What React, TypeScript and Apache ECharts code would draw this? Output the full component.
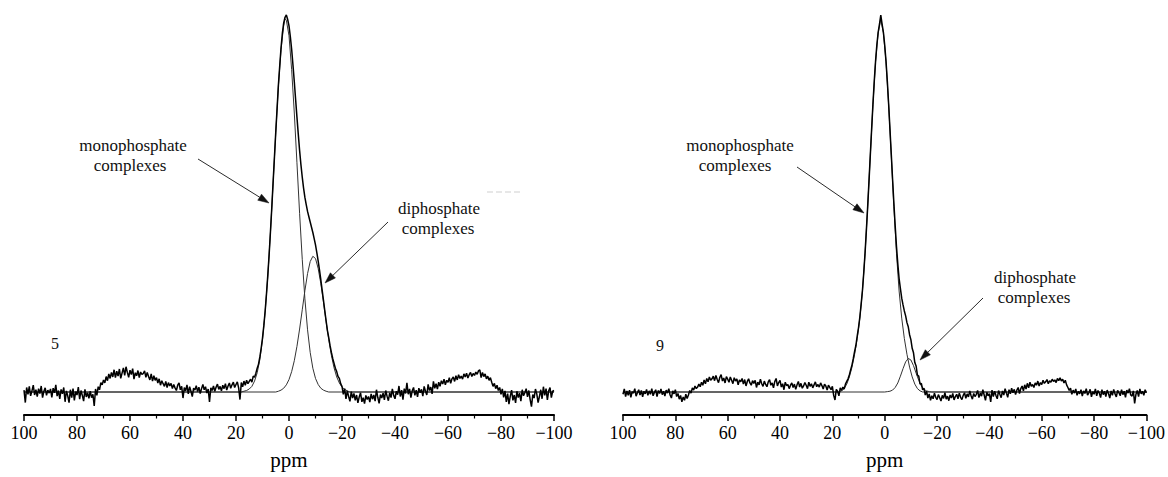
import React, { useEffect, useRef } from "react";
import * as echarts from "echarts";

// ---- data (intensity in arbitrary units, main peak = 100, baseline = 0) ----
const EXP_START_PPM = 100;
const EXP_STEP_PPM = 0.5;

// sample 5 (left panel), experimental spectrum, 100 ppm -> -100 ppm every 0.5 ppm
const LEFT_EXP = [
  0.5, -2.8, 1.2, -0.6, 1.5, -1.0, 0.3, 1.8, -0.8, 0.6,
  -1.2, 0.9, -0.4, 1.6, -1.5, 0.2, 1.1, -0.9, 0.5, -0.3,
  0.8, -1.4, 1.0, -0.2, 1.9, -1.1, 0.4, -1.8, 0.7, -0.5,
  1.2, -2.6, 0.3, -1.0, -2.8, 0.6, -1.5, 0.9, -2.2, 0.1,
  -0.8, 1.3, -1.9, 0.4, -0.9, -2.4, 0.7, -1.3, -0.2, -1.7,
  0.2, -1.5, -0.6, -3.7, 0.8, -0.9, 1.4, 0.6, 2.5, 1.9,
  3.2, 2.4, 4.1, 3.0, 4.8, 3.6, 5.2, 4.0, 5.9, 3.8,
  5.5, 4.2, 6.1, 3.6, 5.0, 6.4, 4.4, 6.7, 5.2, 3.9,
  5.8, 4.6, 6.2, 3.4, 5.1, 4.3, 5.7, 3.8, 5.3, 4.7,
  4.9, 5.6, 3.9, 5.2, 4.1, 3.2, 4.8, 2.9, 4.3, 3.1,
  3.8, 2.4, 3.5, 1.8, 3.0, 2.2, 1.5, 2.8, 1.2, 2.5,
  1.6, 2.3, 0.9, 2.0, 1.1, 0.4, 1.8, 2.4, 0.6, 1.5,
  -1.6, 1.2, 0.3, 1.9, -0.5, 1.4, 0.2, -1.2, 1.0, 0.5,
  1.7, 0.1, 1.3, -0.4, 0.9, 2.0, 0.6, 1.4, -0.3, 0.8,
  -2.6, 1.1, 0.4, 1.6, 0.2, 1.3, 2.1, 0.7, 1.5, 0.3,
  1.8, 0.9, 2.2, 0.5, 1.6, 2.4, 1.0, 1.9, 2.6, 1.2,
  2.0, 2.7, 1.1, -2.0, 2.5, 1.4, 2.9, 1.8, 3.1, 2.2,
  2.8, 3.4, 2.6, 4.2, 3.9, 5.0, 6.3, 7.4, 9.3, 11.6,
  14.3, 17.6, 21.5, 26.0, 31.0, 36.4, 42.5, 48.8, 55.6, 62.2,
  68.9, 75.1, 81.4, 86.5, 91.3, 95.2, 97.9, 99.4, 100.0, 98.8,
  97.1, 94.3, 90.9, 86.7, 82.3, 77.6, 72.9, 68.4, 64.1, 60.3,
  57.0, 54.1, 51.6, 49.7, 47.9, 46.5, 45.1, 43.7, 42.3, 40.7,
  39.0, 37.0, 34.8, 32.4, 29.8, 27.1, 24.4, 21.6, 18.9, 16.3,
  14.4, 12.3, 10.5, 8.9, 7.6, 6.3, 5.4, 4.1, 3.6, 2.2,
  1.5, -0.6, 0.9, -1.8, 0.3, -1.2, -2.5, 0.1, -1.6, -0.4,
  -2.2, -0.8, -2.9, -1.3, -0.2, -2.6, -1.5, -3.1, -0.9, -2.0,
  -1.2, -2.7, -0.5, -1.9, -0.8, -2.4, 0.6, -1.4, -3.0, -0.7,
  -1.6, -0.3, -2.1, 0.4, -1.1, -2.3, -0.2, -1.5, 0.8, -0.9,
  -1.8, 0.2, -0.7, 1.6, -1.2, 0.5, -2.0, 0.9, -0.4, 2.4,
  -0.6, 0.8, -1.5, 0.3, 1.2, -0.9, 0.5, -1.3, 1.0, -0.2,
  0.7, -1.1, 1.5, 0.2, -0.8, 2.0, 0.4, 1.3, -0.5, 2.8,
  1.0, 2.2, 0.8, 2.6, 1.5, 3.0, 2.1, 3.4, 1.9, 3.1,
  2.6, 3.8, 2.3, 3.5, 4.0, 2.8, 4.3, 3.2, 4.6, 3.6,
  4.2, 3.4, 4.8, 4.0, 5.0, 3.7, 4.6, 5.2, 4.1, 4.9,
  4.4, 5.3, 4.7, 5.6, 5.9, 3.8, 5.2, 4.1, 4.8, 3.5,
  4.2, 3.1, 3.8, 2.6, 1.5, 2.3, 0.9, 1.8, 0.4, 1.2,
  -0.6, 0.8, -1.4, 0.3, -2.6, -0.4, -3.2, -1.1, 0.5, -2.2,
  -0.8, -2.9, 0.2, -1.5, -0.3, -2.4, 0.6, -1.0, -0.2, 0.9,
  -1.3, 0.4, -2.0, -3.9, -0.7, -1.6, 0.8, -0.5, -2.8, -1.2,
  0.6, -1.8, 1.4, -0.9, 0.9, -2.1, 0.3, 1.2, -1.5, 0.2,
  0.4,
];

// sample 5 fitted components
const LEFT_MONO_PPM = [100, 18, 17, 16, 15, 14, 13, 12, 11, 10, 9, 8, 7, 6, 5, 4, 3, 2, 1.5, 1, 0, -1, -2, -3, -4, -5, -6, -7, -8, -9, -10, -11, -12, -13, -14, -15, -100];
const LEFT_MONO_VAL = [0, 0, 0.2, 0.4, 0.8, 1.5, 2.9, 5.1, 8.6, 13.9, 21.2, 30.7, 42.3, 55.4, 68.8, 81.2, 90.9, 97.2, 99.0, 98.6, 94.5, 85.5, 74.0, 60.8, 47.4, 35.2, 24.7, 16.5, 10.5, 6.3, 3.6, 2.0, 1.0, 0.5, 0.2, 0, 0];
const LEFT_DI_PPM = [100, 5, 4, 3, 2, 1, 0, -1, -2, -3, -4, -5, -6, -7, -8, -9, -10, -11, -12, -13, -14, -15, -16, -17, -18, -19, -20, -21, -22, -23, -100];
const LEFT_DI_VAL = [0, 0, 0.2, 0.5, 1.0, 1.9, 3.3, 5.4, 8.3, 12.1, 16.7, 21.8, 26.9, 31.4, 34.6, 36.0, 35.4, 32.8, 28.8, 23.9, 18.7, 13.9, 9.7, 6.4, 4.0, 2.4, 1.3, 0.7, 0.3, 0, 0];

// sample 9 (right panel), experimental spectrum
const RIGHT_EXP = [
  -0.6, 0.8, -1.2, 0.3, -0.9, 0.5, -1.4, 0.1, -0.3, 0.9,
  -1.1, -0.2, 0.6, -0.8, 0.4, -1.3, 0.2, -0.5, 0.7, -0.9,
  0.3, -0.6, 0.9, -1.0, -0.1, 0.6, -1.2, 0.4, -0.4, 0.8,
  -0.7, 0.2, -1.1, 0.5, -0.3, 0.9, -0.8, -1.6, 0.3, -0.5,
  0.6, -1.2, -0.4, -1.9, -0.9, -2.6, -1.3, -2.2, -0.6, -1.7,
  -0.8, 0.4, -0.3, 1.1, 0.5, 1.6, 0.9, 1.3, 2.1, 1.4,
  2.6, 1.8, 3.2, 2.2, 3.6, 2.7, 4.0, 3.1, 3.5, 4.2,
  3.0, 4.4, 3.3, 2.5, 3.9, 4.6, 2.9, 3.7, 2.4, 4.1,
  3.4, 2.6, 4.0, 3.1, 2.2, 3.8, 2.9, 3.5, 1.9, 3.2,
  2.7, 3.6, 2.1, 3.3, 1.6, 2.8, 3.5, 2.4, 1.8, 3.0,
  2.3, 3.1, 1.2, 2.6, 1.9, 3.4, 2.2, 1.5, 2.9, 2.0,
  1.4, 2.7, 3.3, 1.8, 2.4, 1.1, 2.8, 3.6, 1.6, 2.5,
  3.1, 1.3, 2.2, 0.6, 2.6, 1.7, 2.0, 0.9, 1.8, 2.4,
  1.2, 2.1, 0.7, 1.9, 2.8, 1.3, 2.3, 1.0, 1.6, 2.5,
  1.8, 0.9, 2.6, 1.5, 2.2, 1.1, 1.9, 2.7, 1.4, 2.0,
  1.3, 2.4, 1.7, 0.8, 2.1, 1.6, 0.5, 1.8, 1.2, 0.6,
  1.5, -0.9, -2.1, 0.7, 0.2, -1.0, 1.1, 0.4, 1.3, 0.8,
  2.1, 2.8, 3.5, 4.6, 5.9, 7.2, 8.9, 10.8, 12.4, 14.9,
  17.1, 19.9, 23.3, 27.0, 31.7, 37.0, 43.0, 49.3, 56.0, 62.9,
  69.7, 76.3, 82.4, 87.7, 92.1, 95.4, 97.6, 100.0, 97.6, 95.4,
  92.0, 87.7, 82.4, 76.4, 69.8, 63.2, 56.5, 50.1, 44.1, 38.6,
  34.0, 30.1, 27.4, 24.9, 23.1, 21.5, 20.2, 18.4, 17.3, 15.2,
  13.9, 11.6, 10.4, 7.8, 6.9, 4.5, 4.2, 2.1, 2.3, 0.6,
  1.0, -0.8, 0.2, -1.6, -0.5, -2.2, -1.0, -1.8, -0.3, -1.4,
  -2.0, -0.7, -1.5, -2.4, -0.9, -1.7, -0.2, -1.9, -1.1, -2.3,
  -0.8, -1.6, -0.4, -2.1, -1.2, -0.6, -1.8, -0.3, -1.4, -2.0,
  -0.9, -0.2, -1.7, -0.5, -1.3, 0.3, -1.0, -1.9, -0.4, -1.2,
  -0.6, 0.4, -1.5, -0.3, -1.1, 0.6, -0.8, -2.2, -0.1, -1.0,
  -0.4, -2.6, 0.5, -1.2, 0.2, -0.9, -1.8, 0.4, -0.6, -1.5,
  0.3, -0.8, 0.9, -0.3, -1.4, 0.6, -0.5, 1.0, -0.2, 0.7,
  -0.7, 0.5, 1.2, -0.4, 0.9, 1.6, 0.3, 1.9, 0.8, 2.3,
  1.1, 2.6, 1.5, 2.0, 1.2, 2.4, 1.8, 2.9, 1.6, 2.5,
  2.0, 3.1, 2.3, 2.7, 3.3, 2.2, 3.0, 2.6, 3.4, 2.8,
  3.2, 2.5, 3.6, 3.0, 3.8, 2.9, 3.4, 2.4, 3.1, 1.9,
  1.2, 0.4, 1.0, -0.6, 0.5, -0.3, 0.8, -0.9, 0.2, -0.5,
  0.6, -1.1, 0.3, -0.4, 0.9, -0.8, -0.2, 0.7, -1.3, 0.1,
  -0.6, 0.8, -1.0, 0.4, -0.3, -1.5, 0.6, -0.7, 0.2, -1.2,
  0.5, -0.4, -1.6, 0.3, -0.9, 0.7, -0.5, -1.3, 0.4, -0.2,
  -1.0, 0.6, -0.7, 0.2, -1.4, 0.5, -0.3, 0.9, -0.8, -1.1,
  0.3, -3.0, -0.6, 0.4, -1.2, 0.8, -0.5, 0.2, -0.9, 0.6,
  -0.2,
];

// sample 9 fitted components
const RIGHT_MONO_PPM = [100, 17.5, 16.5, 15.5, 14.5, 13.5, 12.5, 11.5, 10.5, 9.5, 8.5, 7.5, 6.5, 5.5, 4.5, 3.5, 2.5, 1.5, 0.5, -0.5, -1.5, -2.5, -3.5, -4.5, -5.5, -6.5, -7.5, -8.5, -9.5, -10.5, -11.5, -12.5, -13.5, -14.5, -100];
const RIGHT_MONO_VAL = [0, 0, 0.3, 0.9, 2.1, 4.0, 6.6, 10.0, 14.2, 19.6, 26.8, 36.8, 49.2, 62.8, 76.2, 87.6, 95.3, 98.8, 95.3, 87.6, 76.2, 62.8, 49.2, 36.8, 26.8, 19.6, 14.2, 10.0, 6.6, 4.0, 2.1, 0.9, 0.3, 0, 0];
const RIGHT_DI_PPM = [100, 0, -1, -2, -3, -4, -5, -6, -7, -8, -9, -10, -11, -12, -13, -14, -15, -16, -17, -18, -100];
const RIGHT_DI_VAL = [0, 0, 0.1, 0.2, 0.5, 1.2, 2.4, 4.2, 6.2, 8.0, 8.9, 8.5, 7.0, 5.0, 3.1, 1.6, 0.7, 0.3, 0.1, 0, 0];

const PANEL_LABELS = ["5", "9"];
const X_TITLE = "ppm";
const ANNOT_MONO = ["monophosphate", "complexes"];
const ANNOT_DI = ["diphosphate", "complexes"];

// ---- helpers ----
const FONT = "Liberation Serif, Times New Roman, Times, serif";

const expPairs = (vals: number[]) =>
  vals.map((v, i) => [EXP_START_PPM - i * EXP_STEP_PPM, v]);
const pairs = (xs: number[], ys: number[]) => xs.map((x, i) => [x, ys[i]]);

function arrow(x1: number, y1: number, x2: number, y2: number) {
  const dx = x2 - x1;
  const dy = y2 - y1;
  const len = Math.sqrt(dx * dx + dy * dy);
  const ux = dx / len;
  const uy = dy / len;
  const headL = 11;
  const headW = 3.6;
  const bx = x2 - ux * headL;
  const by = y2 - uy * headL;
  return [
    {
      type: "line",
      silent: true,
      shape: { x1, y1, x2: bx, y2: by },
      style: { stroke: "#2a2a2a", lineWidth: 1 },
    },
    {
      type: "polygon",
      silent: true,
      shape: {
        points: [
          [x2, y2],
          [bx - uy * headW, by + ux * headW],
          [bx + uy * headW, by - ux * headW],
        ],
      },
      style: { fill: "#111", stroke: "#111", lineWidth: 0.5 },
    },
  ];
}

function txt(text: string, x: number, y: number, size: number) {
  return {
    type: "text",
    silent: true,
    x,
    y,
    style: {
      text,
      fill: "#111",
      fontFamily: FONT,
      fontSize: size,
      align: "center",
      verticalAlign: "middle",
    },
  };
}

function xAxisCfg(gridIndex: number) {
  return {
    gridIndex,
    type: "value",
    min: -100,
    max: 100,
    interval: 20,
    inverse: true,
    name: X_TITLE,
    nameLocation: "middle",
    nameGap: 34,
    nameTextStyle: { fontFamily: FONT, fontSize: 21, color: "#000" },
    axisLine: { show: true, onZero: false, lineStyle: { color: "#000", width: 2 } },
    axisTick: { show: true, length: 6, lineStyle: { color: "#000", width: 1.5 } },
    minorTick: { show: true, splitNumber: 2, length: 3.5, lineStyle: { color: "#000", width: 1.2 } },
    splitLine: { show: false },
    minorSplitLine: { show: false },
    axisLabel: {
      color: "#000",
      fontFamily: FONT,
      fontSize: 18,
      margin: 9,
      formatter: (v: number) => String(v).replace("-", "\u2212"),
    },
  };
}

function yAxisCfg(gridIndex: number) {
  return {
    gridIndex,
    type: "value",
    min: -6.1,
    max: 100,
    show: false,
    splitLine: { show: false },
  };
}

function lineSeries(idx: number, data: number[][], width: number, color: string, z: number) {
  return {
    type: "line",
    xAxisIndex: idx,
    yAxisIndex: idx,
    data,
    symbol: "none",
    smooth: false,
    clip: false,
    z,
    lineStyle: { color, width },
    emphasis: { disabled: true },
  };
}

export default function App() {
  const ref = useRef<HTMLDivElement>(null);

  useEffect(() => {
    if (!ref.current) return;
    const chart = echarts.init(ref.current, undefined, { renderer: "svg" });

    const graphics: any[] = [
      // panel numbers
      txt(PANEL_LABELS[0], 55, 343, 16),
      txt(PANEL_LABELS[1], 660, 345, 16),
      // left annotations
      txt(ANNOT_MONO[0], 133, 145, 17),
      txt(ANNOT_MONO[1], 130, 165, 17),
      txt(ANNOT_DI[0], 439, 208, 17),
      txt(ANNOT_DI[1], 438, 228, 17),
      // right annotations
      txt(ANNOT_MONO[0], 740, 145, 17),
      txt(ANNOT_MONO[1], 735, 165, 17),
      txt(ANNOT_DI[0], 1035, 277, 17),
      txt(ANNOT_DI[1], 1034, 297, 17),
      ...arrow(198, 159, 269, 203),
      ...arrow(388, 222, 325, 283),
      ...arrow(797, 167, 864, 213),
      ...arrow(983, 298, 920, 360),
      // faint dashed artefact in left panel
      {
        type: "line",
        silent: true,
        shape: { x1: 487, y1: 192, x2: 521, y2: 192 },
        style: { stroke: "#cfcfcf", lineWidth: 1, lineDash: [6, 3] },
      },
    ];

    chart.setOption({
      animation: false,
      backgroundColor: "#fff",
      textStyle: { fontFamily: FONT },
      grid: [
        { left: 24, top: 15, width: 530, height: 400, containLabel: false },
        { left: 623, top: 15, width: 528, height: 400, containLabel: false },
      ],
      xAxis: [xAxisCfg(0), xAxisCfg(1)],
      yAxis: [yAxisCfg(0), yAxisCfg(1)],
      series: [
        lineSeries(0, pairs(LEFT_MONO_PPM, LEFT_MONO_VAL), 1, "#333", 2),
        lineSeries(0, pairs(LEFT_DI_PPM, LEFT_DI_VAL), 1, "#333", 2),
        lineSeries(0, expPairs(LEFT_EXP), 1.5, "#000", 3),
        lineSeries(1, pairs(RIGHT_MONO_PPM, RIGHT_MONO_VAL), 1, "#333", 2),
        lineSeries(1, pairs(RIGHT_DI_PPM, RIGHT_DI_VAL), 1, "#333", 2),
        lineSeries(1, expPairs(RIGHT_EXP), 1.5, "#000", 3),
      ],
      graphic: graphics,
    });

    return () => chart.dispose();
  }, []);

  return (
    <div
      ref={ref}
      style={{ position: "absolute", left: 0, top: 0, width: 1168, height: 477, background: "#fff" }}
    />
  );
}
